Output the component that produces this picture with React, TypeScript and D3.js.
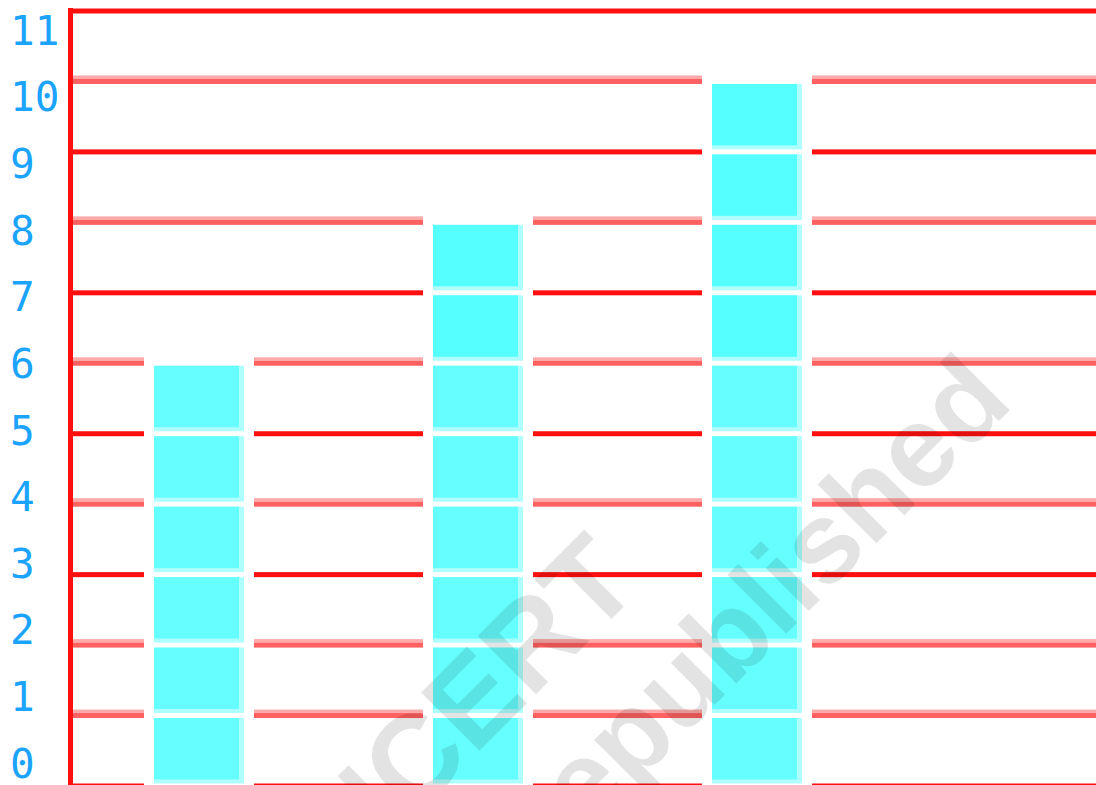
import React from "react";
import * as d3 from "d3";

const categories = ["A", "B", "C"];
const values = [6, 8, 10];
const yTicks = [0, 1, 2, 3, 4, 5, 6, 7, 8, 9, 10, 11];
const strongLines = [0, 3, 5, 7, 9, 11];
const watermarkLines = ["© NCERT", "not to be republished"];

const W = 1096;
const H = 785;

export default function App() {
  const y = d3.scaleLinear().domain([0, 11]).range([786, 11]);
  const yLabel = d3.scaleLinear().domain([0, 11]).range([763, 30]);
  const x = d3
    .scaleBand<string>()
    .domain(categories)
    .range([154, 154 + 279 * 3])
    .paddingInner(0)
    .paddingOuter(0);
  const bw = 90;
  const barX = (c: string) => x(c) as number;

  const axisX = 70.5;

  // grid segments broken around bars where bar value >= line value
  const segs: { v: number; x1: number; x2: number }[] = [];
  yTicks.forEach((v) => {
    let start = axisX;
    categories.forEach((c, i) => {
      if (values[i] >= v) {
        const bx = barX(c);
        segs.push({ v, x1: start, x2: bx - 10 });
        start = bx + bw + 10;
      }
    });
    segs.push({ v, x1: start, x2: W });
  });

  return (
    <svg
      width={W}
      height={H}
      style={{ position: "absolute", left: 0, top: 0, background: "#fff" }}
    >
      {/* grid lines */}
      {segs.map((s, i) => {
        const strong = strongLines.includes(s.v);
        const yy = y(s.v);
        return strong ? (
          <rect key={i} x={s.x1} y={yy - 2.5} width={s.x2 - s.x1} height={5} fill="#ff1010" />
        ) : (
          <g key={i}>
            <rect x={s.x1} y={yy - 6} width={s.x2 - s.x1} height={3.5} fill="#ffaaaa" />
            <rect x={s.x1} y={yy - 2.5} width={s.x2 - s.x1} height={5} fill="#ff6060" />
          </g>
        );
      })}
      {/* y axis line */}
      <rect x={68} y={8} width={5} height={H - 8} fill="#ff1010" />

      {/* bars of stacked blocks */}
      {categories.map((c, ci) =>
        d3.range(values[ci]).map((k) => {
          const top = y(k + 1) + 2.5;
          const bot = y(k) - 2.5;
          const bx = barX(c);
          return (
            <g key={c + k}>
              <rect x={bx} y={top} width={bw} height={bot - top} fill="#b0ffff" />
              <rect x={bx} y={top} width={bw - 5} height={bot - top - 4} fill={k >= 6 ? "#55ffff" : "#66ffff"} />
            </g>
          );
        })
      )}

      {/* y labels */}
      {yTicks.map((v) => (
        <text
          key={v}
          x={10}
          y={yLabel(v)}
          dy="0.36em"
          fill="#1aa3ff"
          fontFamily="'DejaVu Sans Mono', monospace"
          fontSize={41}
        >
          {v}
        </text>
      ))}

      {/* watermark */}
      <g
        transform="rotate(-45)"
        fill="#000"
        fillOpacity={0.11}
        fontFamily="'Liberation Sans', Arial, sans-serif"
        fontWeight="bold"
      >
        <text x={40} y={870} textAnchor="end" fontSize={120}>
          {watermarkLines[0]}
        </text>
        <text x={432} y={1004} textAnchor="end" fontSize={115}>
          {watermarkLines[1]}
        </text>
      </g>
    </svg>
  );
}
